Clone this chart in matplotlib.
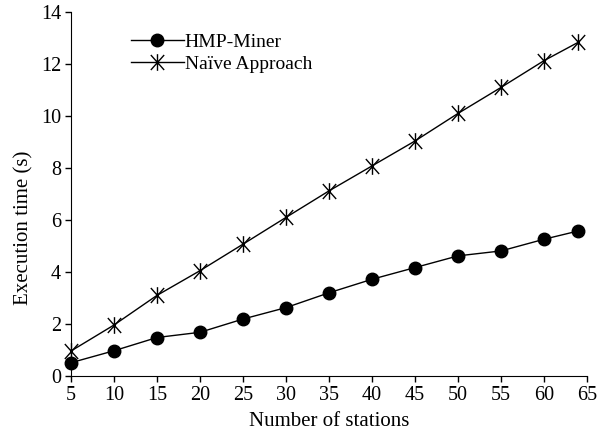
import matplotlib.pyplot as plt
from matplotlib.path import Path

stations = [5, 10, 15, 20, 25, 30, 35, 40, 45, 50, 55, 60, 64]
hmp_miner = [0.51, 0.97, 1.48, 1.68, 2.19, 2.63, 3.2, 3.72, 4.17, 4.62, 4.81, 5.26, 5.58]
naive = [0.96, 1.96, 3.1, 4.05, 5.07, 6.1, 7.12, 8.08, 9.04, 10.1, 11.1, 12.13, 12.84]

plt.rcParams['font.family'] = ['Liberation Serif', 'DejaVu Serif']
plt.rcParams['font.size'] = 14

# asterisk: vertical bar plus an X
star = Path([(0, -1), (0, 1), (-0.8, -0.9), (0.8, 0.9), (-0.8, 0.9), (0.8, -0.9)],
            [Path.MOVETO, Path.LINETO, Path.MOVETO, Path.LINETO, Path.MOVETO, Path.LINETO])

fig = plt.figure(figsize=(6.04, 4.38), dpi=100)
ax = fig.add_axes([0.1175, 0.1416, 0.8545, 0.831])

ax.plot(stations, hmp_miner, color='black', lw=1.0, marker='o', markersize=9,
        label='HMP-Miner', clip_on=False, zorder=3)
ax.plot(stations, naive, color='black', lw=1.0, marker=star, markersize=12,
        markeredgewidth=1.0, markerfacecolor='none', label='Naïve Approach',
        clip_on=False, zorder=3)

ax.set_xlim(5, 65)
ax.set_ylim(0, 14)
ax.set_xticks(range(5, 66, 5))
ax.set_yticks(range(0, 15, 2))
ax.spines['top'].set_visible(False)
ax.spines['right'].set_visible(False)
ax.tick_params(direction='out', length=4, width=1, pad=3, labelsize=14.5)
ax.set_xlabel('Number of stations', fontsize=15)
ax.set_ylabel('Execution time (s)', fontsize=15)
ax.xaxis.set_label_coords(0.5, -0.098)
ax.yaxis.set_label_coords(-0.072, 0.407)

ax.legend(loc='upper left', bbox_to_anchor=(0.09, 0.98), frameon=False,
          handlelength=2.7, handletextpad=0.05, labelspacing=0.25, borderaxespad=0.3)

plt.savefig('out.png', dpi=100)
